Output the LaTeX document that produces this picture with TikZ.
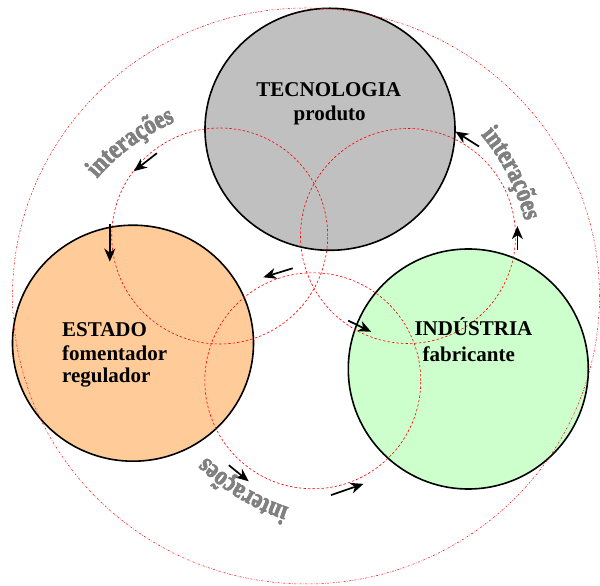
\documentclass[tikz,border=0pt]{standalone}
\usepackage{fontspec}
\setmainfont{Liberation Serif}
\newfontfamily\labelfont{Liberation Serif}[BoldFeatures={FakeBold=3}]
\usetikzlibrary{arrows.meta,shapes.geometric,decorations.text}
\definecolor{tecgray}{HTML}{C0C0C0}
\definecolor{estorange}{HTML}{FFCC99}
\definecolor{indgreen}{HTML}{CCFFCC}
\definecolor{labgray}{HTML}{808080}
\definecolor{dashred}{HTML}{FF0000}
\newcommand\labfmt{\labelfont\bfseries\fontsize{22.5}{22.5}\selectfont}
\tikzset{
  bigcircle/.style={ellipse,draw=black,line width=1.6pt,inner sep=0pt},
  smallring/.style={draw=dashred,line width=0.6pt,dash pattern=on 2.5pt off 2pt},
  outerring/.style={draw=dashred,line width=0.5pt,dash pattern=on 2pt off 1.5pt on 0.5pt off 1.5pt},
  flow/.style={line width=1.7pt,-{Stealth[length=13pt,width=11pt,inset=4pt]}},
  maintext/.style={font=\bfseries\fontsize{21}{23.5}\selectfont,inner sep=0pt},
  arclabel/.style={decorate,decoration={text effects along path,text={interações},text align=center,
    text effects/.cd,text along path,characters={font=\labfmt,text=labgray,inner sep=0pt,yscale=1.2}}}
}
\begin{document}
\begin{tikzpicture}[x=1pt,y=1pt]
\useasboundingbox[fill=white] (0,0) rectangle (600,586);
% big circles
\node[bigcircle,fill=tecgray,minimum width=250pt,minimum height=242pt] (tec) at (330,456.7) {};
\node[bigcircle,fill=estorange,minimum width=241pt,minimum height=236pt] (est) at (133,242.8) {};
\node[bigcircle,fill=indgreen,minimum width=240pt,minimum height=240pt] (ind) at (468.3,217) {};
% outer ring
\node[ellipse,outerring,minimum width=587pt,minimum height=576pt,inner sep=0pt] (outer) at (306,290) {};
% small dashed rings
\node[circle,smallring,minimum size=216pt,inner sep=0pt] (rl) at (219.7,350) {};
\node[circle,smallring,minimum size=215pt,inner sep=0pt] (rr) at (408,350) {};
\node[circle,smallring,minimum size=216pt,inner sep=0pt] (rb) at (312.8,205.2) {};
% arrows
\coordinate (a1s) at (156.9,432.8); \coordinate (a1e) at (133.9,414.8);
\coordinate (a2s) at (109.8,361.8); \coordinate (a2e) at (109.8,324.4);
\coordinate (a3s) at (292.7,317.7); \coordinate (a3e) at (263.3,308.7);
\coordinate (a4s) at (348.2,265.4); \coordinate (a4e) at (371.2,254.2);
\coordinate (a5s) at (228.8,120.8); \coordinate (a5e) at (248.7,104.7);
\coordinate (a6s) at (331,90.9);    \coordinate (a6e) at (363.5,102.1);
\coordinate (a7s) at (517.4,336.4); \coordinate (a7e) at (517.4,359.9);
\coordinate (a8s) at (479,439.5);   \coordinate (a8e) at (455.4,454.5);
\foreach \i in {1,...,8} {\draw[flow] (a\i s) -- (a\i e);}
% texts
\node[maintext,anchor=base] (t1) at (328.8,489) {TECNOLOGIA};
\node[maintext,anchor=base] (t2) at (329.7,465) {produto};
\node[maintext,anchor=base west] (e1) at (62,249) {ESTADO};
\node[maintext,anchor=base west] (e2) at (62,225) {fomentador};
\node[maintext,anchor=base west] (e3) at (62,203) {regulador};
\node[maintext,anchor=base] (i1) at (473.5,250) {INDÚSTRIA};
\node[maintext,anchor=base] (i2) at (468.8,224) {fabricante};
% arc labels
\coordinate (c1) at (258,268);
\coordinate (c2) at (318,314);
\coordinate (c3) at (356,280.5);
\path[arclabel] ([shift={(161:213pt)}]c1) arc[start angle=161,end angle=91,radius=213pt];
\path[arclabel] ([shift={(62:213pt)}]c2) arc[start angle=62,end angle=-8,radius=213pt];
\path[arclabel] ([shift={(273.5:213pt)}]c3) arc[start angle=273.5,end angle=203.5,radius=213pt];
\end{tikzpicture}
\end{document}
